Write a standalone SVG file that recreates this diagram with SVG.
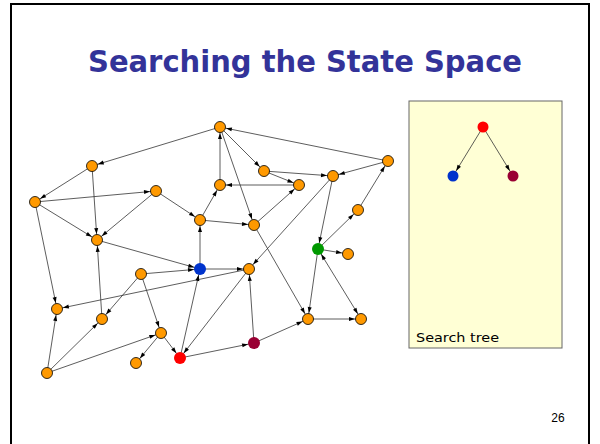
<svg xmlns="http://www.w3.org/2000/svg" width="600" height="444" viewBox="0 0 600 444">
<style>
.t{font-family:"Comic Sans MS","DejaVu Sans",sans-serif;}
.e{stroke:#333;stroke-width:0.8;fill:none;marker-end:url(#ah);}
.b{marker-start:url(#ah);}
.o{fill:#FF9900;stroke:#000;stroke-width:0.8;}
</style>
<defs>
<marker id="ah" markerUnits="userSpaceOnUse" markerWidth="14" markerHeight="6" refX="12" refY="2" orient="auto-start-reverse" overflow="visible">
<path d="M0,0 L6,2 L0,4 z" fill="#000"/>
</marker>
</defs>
<rect x="0" y="0" width="600" height="444" fill="#fff"/>
<rect x="11" y="4" width="578" height="460" fill="none" stroke="#000" stroke-width="2"/>
<text class="t" x="305" y="72" font-size="31" font-weight="bold" fill="#333399" text-anchor="middle" textLength="434" lengthAdjust="spacingAndGlyphs">Searching the State Space</text>
<g id="search-tree">
<rect x="409" y="101" width="153" height="247" fill="#FFFFD5" stroke="#666" stroke-width="1"/>
<line class="e" x1="483" y1="127" x2="453" y2="176"/>
<line class="e" x1="483" y1="127" x2="513" y2="176"/>
<circle cx="483" cy="127" r="5.5" fill="#FF0000"/>
<circle cx="453" cy="176" r="5.5" fill="#0033CC"/>
<circle cx="513" cy="176" r="5.5" fill="#990033"/>
<text class="t" x="416" y="342" font-size="13" fill="#000" textLength="83" lengthAdjust="spacingAndGlyphs">Search tree</text>
</g>
<text x="558" y="422" font-family="Liberation Sans, Arial, sans-serif" font-size="12" text-anchor="middle" fill="#000">26</text>
<g id="connectors">
<line class="e" x1="220" y1="127" x2="92" y2="166"/>
<line class="e" x1="388" y1="161" x2="220" y2="127"/>
<line class="e" x1="92" y1="166" x2="35" y2="202"/>
<line class="e" x1="92" y1="166" x2="97" y2="240"/>
<line class="e" x1="35" y1="202" x2="156" y2="191"/>
<line class="e" x1="35" y1="202" x2="97" y2="240"/>
<line class="e" x1="35" y1="202" x2="57" y2="309"/>
<line class="e" x1="156" y1="191" x2="97" y2="240"/>
<line class="e" x1="156" y1="191" x2="200" y2="220"/>
<line class="e" x1="200" y1="220" x2="220" y2="185"/>
<line class="e" x1="220" y1="185" x2="220" y2="127"/>
<line class="e" x1="220" y1="127" x2="264" y2="171"/>
<line class="e" x1="220" y1="127" x2="254" y2="225"/>
<line class="e" x1="264" y1="171" x2="333" y2="176"/>
<line class="e" x1="264" y1="171" x2="299" y2="185"/>
<line class="e" x1="299" y1="185" x2="220" y2="185"/>
<line class="e" x1="200" y1="220" x2="254" y2="225"/>
<line class="e" x1="254" y1="225" x2="299" y2="185"/>
<line class="e" x1="388" y1="161" x2="333" y2="176"/>
<line class="e" x1="333" y1="176" x2="318" y2="249"/>
<line class="e" x1="333" y1="176" x2="249" y2="269"/>
<line class="e" x1="254" y1="225" x2="308" y2="319"/>
<line class="e" x1="358" y1="210" x2="388" y2="161"/>
<line class="e" x1="318" y1="249" x2="358" y2="210"/>
<line class="e" x1="318" y1="249" x2="348" y2="254"/>
<line class="e b" x1="318" y1="249" x2="361" y2="319"/>
<line class="e" x1="318" y1="249" x2="308" y2="319"/>
<line class="e" x1="308" y1="319" x2="361" y2="319"/>
<line class="e" x1="254" y1="343" x2="308" y2="319"/>
<line class="e" x1="254" y1="343" x2="249" y2="269"/>
<line class="e" x1="180" y1="358" x2="254" y2="343"/>
<line class="e" x1="200" y1="269" x2="249" y2="269"/>
<line class="e" x1="200" y1="269" x2="200" y2="220"/>
<line class="e" x1="97" y1="240" x2="200" y2="269"/>
<line class="e" x1="141" y1="274" x2="200" y2="269"/>
<line class="e" x1="141" y1="274" x2="102" y2="319"/>
<line class="e" x1="141" y1="274" x2="161" y2="333"/>
<line class="e" x1="102" y1="319" x2="97" y2="240"/>
<line class="e" x1="249" y1="269" x2="57" y2="309"/>
<line class="e" x1="47" y1="373" x2="57" y2="309"/>
<line class="e" x1="47" y1="373" x2="102" y2="319"/>
<line class="e" x1="47" y1="373" x2="161" y2="333"/>
<line class="e" x1="161" y1="333" x2="136" y2="363"/>
<line class="e" x1="161" y1="333" x2="180" y2="358"/>
<line class="e" x1="180" y1="358" x2="200" y2="269"/>
<line class="e" x1="249" y1="269" x2="180" y2="358"/>
</g>
<g id="n-a"><circle class="o" cx="220" cy="127" r="5.5"/></g>
<g id="n-b"><circle class="o" cx="92" cy="166" r="5.5"/></g>
<g id="n-c"><circle class="o" cx="388" cy="161" r="5.5"/></g>
<g id="n-d"><circle class="o" cx="35" cy="202" r="5.5"/></g>
<g id="n-e"><circle class="o" cx="156" cy="191" r="5.5"/></g>
<g id="n-f"><circle class="o" cx="264" cy="171" r="5.5"/></g>
<g id="n-g"><circle class="o" cx="333" cy="176" r="5.5"/></g>
<g id="n-h"><circle class="o" cx="220" cy="185" r="5.5"/></g>
<g id="n-i"><circle class="o" cx="299" cy="185" r="5.5"/></g>
<g id="n-j"><circle class="o" cx="97" cy="240" r="5.5"/></g>
<g id="n-k"><circle class="o" cx="200" cy="220" r="5.5"/></g>
<g id="n-l"><circle class="o" cx="254" cy="225" r="5.5"/></g>
<g id="n-m"><circle class="o" cx="358" cy="210" r="5.5"/></g>
<g id="n-n"><circle cx="318" cy="249" r="6" fill="#009900"/></g>
<g id="n-o"><circle class="o" cx="348" cy="254" r="5.5"/></g>
<g id="n-p"><circle cx="200" cy="269" r="6" fill="#0033CC"/></g>
<g id="n-q"><circle class="o" cx="249" cy="269" r="5.5"/></g>
<g id="n-r"><circle class="o" cx="141" cy="274" r="5.5"/></g>
<g id="n-s"><circle class="o" cx="57" cy="309" r="5.5"/></g>
<g id="n-t"><circle class="o" cx="102" cy="319" r="5.5"/></g>
<g id="n-u"><circle class="o" cx="161" cy="333" r="5.5"/></g>
<g id="n-v"><circle class="o" cx="136" cy="363" r="5.5"/></g>
<g id="n-w"><circle cx="180" cy="358" r="6" fill="#FF0000"/></g>
<g id="n-x"><circle cx="254" cy="343" r="6" fill="#990033"/></g>
<g id="n-y"><circle class="o" cx="308" cy="319" r="5.5"/></g>
<g id="n-z"><circle class="o" cx="361" cy="319" r="5.5"/></g>
<g id="n-aa"><circle class="o" cx="47" cy="373" r="5.5"/></g>
</svg>
